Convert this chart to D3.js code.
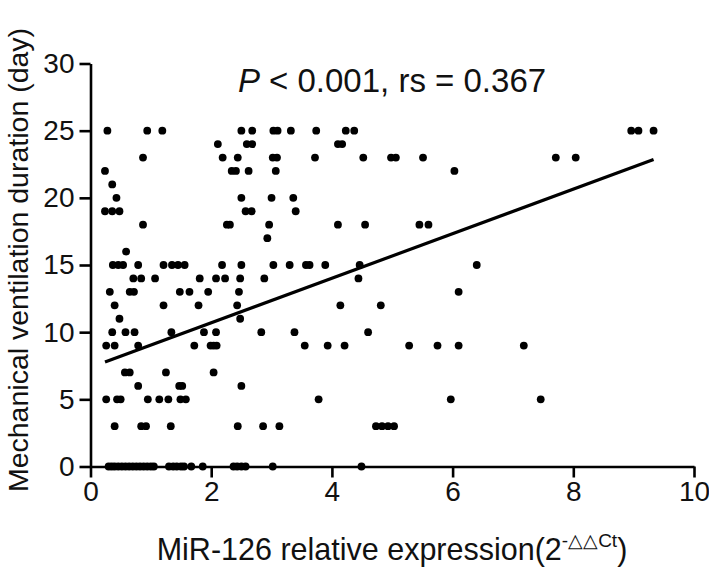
<!DOCTYPE html>
<html>
<head>
<meta charset="utf-8">
<script src="https://cdn.jsdelivr.net/npm/d3@7"></script>
<style>
  html, body { margin: 0; padding: 0; background: #fff; }
  svg { display: block; font-family: "Liberation Sans", Arial, sans-serif; }
</style>
</head>
<body>
<svg id="chart" width="709" height="576"></svg>
<script>
// ---- data ----
// each row: ventilation duration (day) and the MiR-126 expression values at that duration
const durations = [25, 24, 23, 22, 21, 20, 19, 18, 17, 16, 15, 14, 13, 12, 11, 10, 9, 7, 6, 5, 3, 0];
const expr25 = [0.28, 0.94, 1.19, 2.5, 2.68, 3.03, 3.1, 3.32, 3.74, 4.23, 4.37, 8.96, 9.08, 9.33];
const expr24 = [2.11, 2.59, 2.68, 4.1, 4.17];
const expr23 = [0.87, 2.19, 2.44, 3.02, 3.09, 3.72, 4.52, 4.98, 5.06, 5.51, 7.71, 8.04];
const expr22 = [0.24, 2.34, 2.41, 2.62, 3.07, 6.03];
const expr21 = [0.36];
const expr20 = [0.43, 2.5, 3.0, 3.36];
const expr19 = [0.24, 0.36, 0.48, 2.57, 2.67, 3.4];
const expr18 = [0.87, 2.26, 2.31, 2.96, 4.1, 4.55, 5.45, 5.6];
const expr17 = [2.93];
const expr16 = [0.59];
const expr15 = [0.37, 0.46, 0.54, 0.79, 1.21, 1.35, 1.45, 1.56, 2.18, 2.5, 3.03, 3.3, 3.57, 3.63, 3.89, 4.46, 6.4];
const expr14 = [0.71, 0.84, 1.07, 1.81, 2.08, 2.23, 2.48, 2.88, 4.44];
const expr13 = [0.32, 0.65, 0.72, 1.48, 1.64, 1.95, 2.46, 6.1];
const expr12 = [0.4, 1.21, 1.79, 2.43, 4.14, 4.81];
const expr11 = [0.48, 2.48];
const expr10 = [0.36, 0.58, 0.73, 1.34, 1.88, 2.08, 2.83, 3.38, 4.6];
const expr9  = [0.26, 0.4, 0.79, 1.72, 1.99, 2.04, 2.09, 3.55, 3.93, 4.21, 5.28, 5.75, 6.1, 7.18];
const expr7  = [0.57, 0.65, 1.25, 2.04];
const expr6  = [0.79, 1.47, 1.52, 2.5];
const expr5  = [0.26, 0.44, 0.5, 0.95, 1.14, 1.29, 1.49, 1.58, 3.78, 5.97, 7.46];
const expr3  = [0.4, 0.84, 0.92, 1.33, 2.44, 2.86, 3.13, 4.73, 4.83, 4.93, 5.03];
const expr0  = [0.3, 0.35, 0.4, 0.46, 0.52, 0.58, 0.64, 0.7, 0.76, 0.82, 0.88, 0.94, 1.0, 1.05,
                1.3, 1.37, 1.43, 1.5, 1.55, 1.67, 1.86, 2.37, 2.43, 2.5, 2.57, 3.02, 4.49];
const exprByDuration = [expr25, expr24, expr23, expr22, expr21, expr20, expr19, expr18, expr17, expr16,
                        expr15, expr14, expr13, expr12, expr11, expr10, expr9, expr7, expr6, expr5, expr3, expr0];

// regression line end points
const fitX = [0.24, 9.33];
const fitY = [7.77, 22.86];

const xTicks = [0, 2, 4, 6, 8, 10];
const yTicks = [0, 5, 10, 15, 20, 25, 30];

const points = [];
durations.forEach((d, i) => exprByDuration[i].forEach(x => points.push({x: x, y: d})));

// ---- drawing ----
const svg = d3.select("#chart");
const x = d3.scaleLinear().domain([0, 10]).range([90.5, 694]);
const y = d3.scaleLinear().domain([0, 30]).range([466.5, 63.5]);

// points
svg.append("g").selectAll("circle").data(points).join("circle")
  .attr("cx", d => x(d.x)).attr("cy", d => y(d.y)).attr("r", 3.9)
  .attr("fill", "#000");

// axes
const xAxis = svg.append("g").attr("transform", `translate(0,${y(0)})`)
  .call(d3.axisBottom(x).tickValues(xTicks).tickSize(11).tickSizeOuter(0).tickPadding(4).tickFormat(d3.format("d")));
const yAxis = svg.append("g").attr("transform", `translate(${x(0)},0)`)
  .call(d3.axisLeft(y).tickValues(yTicks).tickSize(11).tickSizeOuter(0).tickPadding(5).tickFormat(d3.format("d")));
[xAxis, yAxis].forEach(g => {
  g.select(".domain").attr("stroke", "#000").attr("stroke-width", 2.6);
  g.selectAll(".tick line").attr("stroke", "#000").attr("stroke-width", 2.6);
  g.selectAll(".tick text").attr("fill", "#111").style("font-size", "28px")
    .style("font-family", '"Liberation Sans", Arial, sans-serif');
});

// regression line
svg.append("line")
  .attr("x1", x(fitX[0])).attr("y1", y(fitY[0]))
  .attr("x2", x(fitX[1])).attr("y2", y(fitY[1]))
  .attr("stroke", "#000").attr("stroke-width", 3.2).attr("stroke-linecap", "butt");

// annotation
const ann = svg.append("text").attr("x", 392).attr("y", 92).attr("text-anchor", "middle")
  .style("font-size", "33px").attr("fill", "#111");
ann.append("tspan").style("font-style", "italic").text("P");
ann.append("tspan").text(" < 0.001, rs = 0.367");

// y axis title
svg.append("text").attr("transform", "translate(28,260) rotate(-90)").attr("text-anchor", "middle")
  .style("font-size", "28.5px").attr("fill", "#111").text("Mechanical ventilation duration (day)");

// x axis title
const xt = svg.append("text").attr("x", 392).attr("y", 560).attr("text-anchor", "middle")
  .style("font-size", "30.5px").attr("fill", "#111");
xt.append("tspan").text("MiR-126 relative expression(2");
xt.append("tspan").attr("dy", -13).style("font-size", "19px").text("-△△Ct");
xt.append("tspan").attr("dy", 13).text(")");
</script>
</body>
</html>
